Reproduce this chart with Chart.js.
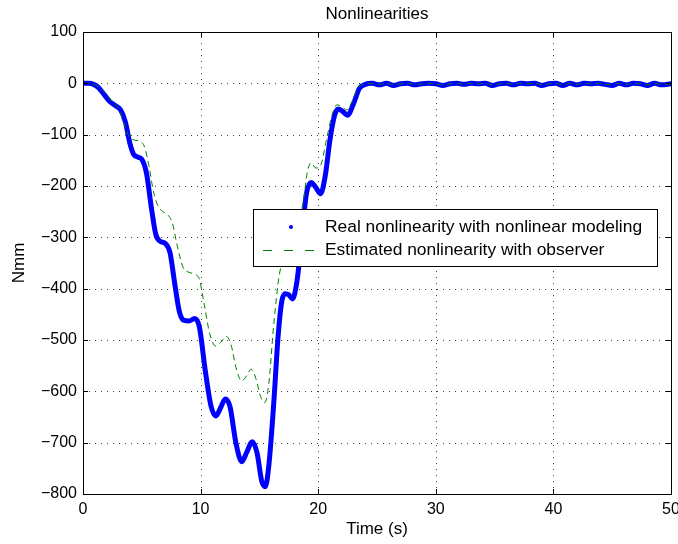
<!DOCTYPE html>
<html>
<head>
<meta charset="utf-8">
<script src="https://cdn.jsdelivr.net/npm/chart.js@4/dist/chart.umd.min.js"></script>
<style>
  html, body { margin:0; padding:0; background:#fff; }
  #wrap { width:678px; height:544px; }
</style>
</head>
<body>
<div id="wrap"><canvas id="c"></canvas></div>
<script>
/* ── Data ────────────────────────────────────────────────────────── */
const TITLE   = 'Nonlinearities';
const X_LABEL = 'Time (s)';
const Y_LABEL = 'Nmm';
const X_TICKS = [0, 10, 20, 30, 40, 50];
const Y_TICKS = [100, 0, -100, -200, -300, -400, -500, -600, -700, -800];

const realLabel = 'Real nonlinearity with nonlinear modeling';
const realT = [0,0.5,0.9,1.3,1.8,2.3,2.8,3.2,3.6,4.0,4.3,4.7,5.0,5.4,5.8,6.2,6.6,7.0,7.4,7.8,
  8.2,8.6,9.0,9.5,9.9,10.4,10.9,11.3,11.7,12.1,12.5,13.0,13.5,13.9,14.4,14.8,15.2,15.5,15.8,16.2,
  16.6,16.9,17.2,17.5,17.8,18.2,18.6,19.0,19.4,19.8,20.2,20.6,21.0,21.4,21.7,22.1,22.5,23.0,23.5,24.0,
  24.6,25.2,25.8,26.4,27.0,27.6,28.2,28.8,29.4,30.0,30.6,31.2,31.8,32.4,33.0,33.6,34.2,34.8,35.4,36.0,
  36.6,37.2,37.8,38.4,39.0,39.6,40.2,40.8,41.4,42.0,42.6,43.2,43.8,44.4,45.0,45.6,46.2,46.8,47.4,48.0,
  48.6,49.2,50];
const realV = [0,0,-2,-8,-22,-36,-44,-52,-75,-118,-138,-144,-148,-175,-240,-295,-308,-312,-330,-390,
  -445,-462,-463,-458,-475,-560,-630,-648,-632,-615,-630,-700,-737,-720,-698,-720,-775,-786,-745,-630,
  -490,-425,-410,-412,-420,-385,-300,-215,-193,-203,-215,-180,-110,-62,-50,-55,-62,-40,-10,-2,
  0,-3,0,-4,-1,0,-3,-1,0,-1,-4,-1,0,-2,0,-1,0,-4,-1,0,
  -3,0,-1,0,-4,-1,0,-4,0,-3,0,-1,0,-2,-4,0,-3,0,-1,-4,
  0,-3,-1];

const estLabel = 'Estimated nonlinearity with observer';
const estT = [0,0.5,1.0,1.5,2.0,2.5,3.0,3.5,3.9,4.3,4.8,5.2,5.6,6.0,6.4,6.8,7.2,7.6,8.0,8.5,
  9.0,9.5,9.9,10.3,10.8,11.3,11.7,12.2,12.6,13.0,13.5,13.9,14.3,14.7,15.1,15.45,15.8,16.2,16.7,17.2,
  17.8,18.3,18.7,19.1,19.4,19.8,20.2,20.7,21.2,21.6,22.0,22.4,22.9,23.4,24.0,
  24.6,25.2,25.8,26.4,27.0,27.6,28.2,28.8,29.4,30.0,30.6,31.2,31.8,32.4,33.0,33.6,34.2,34.8,35.4,36.0,
  36.6,37.2,37.8,38.4,39.0,39.6,40.2,40.8,41.4,42.0,42.6,43.2,43.8,44.4,45.0,45.6,46.2,46.8,47.4,48.0,
  48.6,49.2,50];
const estV = [0,0,-3,-10,-22,-36,-48,-78,-103,-110,-113,-122,-160,-212,-240,-250,-256,-272,-315,-358,
  -368,-372,-382,-430,-490,-512,-505,-493,-510,-553,-580,-570,-557,-575,-610,-622,-585,-475,-372,-338,
  -300,-268,-235,-170,-155,-165,-160,-110,-60,-42,-45,-52,-35,-8,-2,
  0,-2,0,-3,-1,0,-2,-1,0,-1,-3,-1,0,-2,0,-1,0,-3,-1,0,
  -2,0,-1,0,-3,-1,0,-3,0,-2,0,-1,0,-2,-3,0,-2,0,-1,-3,
  0,-2,-1];

/* ── Style ───────────────────────────────────────────────────────── */
const FONT = "'Liberation Sans', Arial, Helvetica, sans-serif";
const pairs = (xs, ys) => xs.map((x, i) => ({ x, y: ys[i] }));
const minus = v => String(v).replace('-', '\u2212');

/* ── Plugins: white bg, MATLAB-ish box/grid, title, legend ──────── */
const matlabFrame = {
  id: 'matlabFrame',
  beforeDraw(chart) {
    const { ctx, width, height } = chart;
    ctx.save(); ctx.fillStyle = '#fff'; ctx.fillRect(0, 0, width, height); ctx.restore();
  },
  beforeDatasetsDraw(chart) {
    const { ctx, chartArea: a, scales: { x, y } } = chart;
    ctx.save();
    ctx.strokeStyle = 'rgba(0,0,0,0.75)';
    ctx.lineWidth = 1;
    ctx.setLineDash([1, 5]);
    X_TICKS.forEach(v => {
      const px = Math.round(x.getPixelForValue(v)) + 0.5;
      if (v === X_TICKS[0] || v === X_TICKS[X_TICKS.length - 1]) return;
      ctx.beginPath(); ctx.moveTo(px, a.bottom); ctx.lineTo(px, a.top); ctx.stroke();
    });
    Y_TICKS.forEach(v => {
      const py = Math.round(y.getPixelForValue(v)) + 0.5;
      if (v === Y_TICKS[0] || v === Y_TICKS[Y_TICKS.length - 1]) return;
      ctx.beginPath(); ctx.moveTo(a.left, py); ctx.lineTo(a.right, py); ctx.stroke();
    });
    ctx.restore();
  },
  afterDatasetsDraw(chart) {
    const { ctx, chartArea: a, scales: { x, y } } = chart;
    ctx.save();
    ctx.strokeStyle = '#000';
    ctx.lineWidth = 1;
    // inward tick marks
    const tl = 5;
    X_TICKS.forEach(v => {
      const px = Math.round(x.getPixelForValue(v)) + 0.5;
      ctx.beginPath();
      ctx.moveTo(px, a.bottom); ctx.lineTo(px, a.bottom - tl);
      ctx.moveTo(px, a.top);    ctx.lineTo(px, a.top + tl);
      ctx.stroke();
    });
    Y_TICKS.forEach(v => {
      const py = Math.round(y.getPixelForValue(v)) + 0.5;
      ctx.beginPath();
      ctx.moveTo(a.left, py);  ctx.lineTo(a.left + tl, py);
      ctx.moveTo(a.right, py); ctx.lineTo(a.right - tl, py);
      ctx.stroke();
    });
    // box
    ctx.strokeRect(Math.round(a.left) + 0.5, Math.round(a.top) + 0.5,
                   Math.round(a.right - a.left), Math.round(a.bottom - a.top));
    ctx.restore();
  },
  afterDraw(chart) {
    const { ctx, chartArea: a } = chart;
    ctx.save();
    // title
    ctx.fillStyle = '#000';
    ctx.font = '17px ' + FONT;
    ctx.textAlign = 'center';
    ctx.textBaseline = 'alphabetic';
    ctx.fillText(TITLE, (a.left + a.right) / 2, 19);

    // legend box
    const bx = 253, by = 209, bw = 404, bh = 57;
    ctx.fillStyle = '#fff';
    ctx.fillRect(bx, by, bw, bh);
    ctx.strokeStyle = '#000';
    ctx.lineWidth = 1;
    ctx.strokeRect(bx + 0.5, by + 0.5, bw, bh);

    const ds = chart.data.datasets;
    const row1 = by + 18, row2 = by + 41;
    // blue dot marker
    ctx.fillStyle = ds[1].borderColor;
    ctx.beginPath(); ctx.arc(bx + 38, row1, 2, 0, Math.PI * 2); ctx.fill();
    // green dashed sample
    ctx.strokeStyle = ds[0].borderColor;
    ctx.setLineDash([9, 12]);
    ctx.beginPath(); ctx.moveTo(bx + 10, row2 + 0.5); ctx.lineTo(bx + 64, row2 + 0.5); ctx.stroke();
    ctx.setLineDash([]);

    ctx.fillStyle = '#000';
    ctx.font = '17.4px ' + FONT;
    ctx.textAlign = 'left';
    ctx.textBaseline = 'middle';
    ctx.fillText(ds[1].label, bx + 72, row1);
    ctx.fillText(ds[0].label, bx + 72, row2);
    ctx.restore();
  }
};

/* ── Chart ───────────────────────────────────────────────────────── */
new Chart(document.getElementById('c'), {
  type: 'line',
  data: {
    datasets: [
      { label: estLabel, data: pairs(estT, estV), order: 0,
        borderColor: '#008000', borderWidth: 1, borderDash: [6, 4],
        pointRadius: 0, cubicInterpolationMode: 'monotone', fill: false },
      { label: realLabel, data: pairs(realT, realV), order: 1,
        borderColor: '#0000ff', borderWidth: 5, borderCapStyle: 'round', borderJoinStyle: 'round',
        pointRadius: 0, cubicInterpolationMode: 'monotone', fill: false }
    ]
  },
  options: {
    responsive: true,
    maintainAspectRatio: false,
    animation: false,
    events: [],
    layout: { padding: { top: 32, right: 7, bottom: 0, left: 0 } },
    plugins: { legend: { display: false }, title: { display: false }, tooltip: { enabled: false } },
    scales: {
      x: {
        type: 'linear', min: 0, max: 50,
        afterBuildTicks: s => { s.ticks = X_TICKS.map(v => ({ value: v })); },
        afterFit: s => { s.height = 50; s.paddingLeft = 0; s.paddingRight = 0; },
        grid: { display: false, drawTicks: false },
        border: { display: false },
        ticks: { color: '#000', font: { family: FONT, size: 16 }, padding: 6, maxRotation: 0,
                 callback: v => minus(v) },
        title: { display: true, text: X_LABEL, color: '#000', font: { family: FONT, size: 17 },
                 padding: { top: 0, bottom: 4 } }
      },
      y: {
        type: 'linear', min: -800, max: 100,
        afterBuildTicks: s => { s.ticks = Y_TICKS.map(v => ({ value: v })); },
        afterFit: s => { s.width = 83; s.paddingTop = 0; s.paddingBottom = 0; },
        grid: { display: false, drawTicks: false },
        border: { display: false },
        ticks: { color: '#000', font: { family: FONT, size: 16 }, padding: 6,
                 callback: v => minus(v) },
        title: { display: true, text: Y_LABEL, color: '#000', font: { family: FONT, size: 17 },
                 padding: { top: 9, bottom: 0 } }
      }
    }
  },
  plugins: [matlabFrame]
});
</script>
</body>
</html>
